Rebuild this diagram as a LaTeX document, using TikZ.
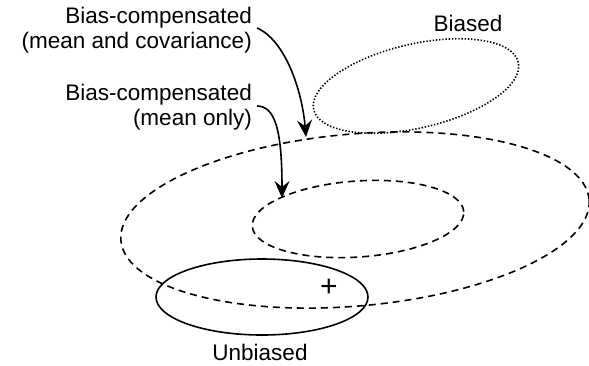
\documentclass[tikz,border=0pt]{standalone}
\usepackage{fontspec}
\setmainfont{Liberation Sans}
\usetikzlibrary{arrows.meta}
\begin{document}
\begin{tikzpicture}[x=1pt,y=-1pt,
  lbl/.style={inner sep=0pt,font=\fontsize{22.5}{25}\selectfont,align=right},
  solidell/.style={draw,line width=1.6pt},
  dashell/.style={draw,line width=1.6pt,dash pattern=on 7pt off 5pt},
  dotell/.style={draw,line width=1.6pt,dash pattern=on 1.4pt off 1.8pt},
  arr/.style={draw,line width=1.6pt,-{Stealth[length=17pt,width=15pt,inset=6pt]}}]
\useasboundingbox (0,0) rectangle (589,365);
% ellipses
\draw[dashell,rotate around={5:(355,220)}] (355,220) ellipse [x radius=235pt,y radius=86pt];
\draw[dashell,rotate around={4:(358,219)}] (358,219) ellipse [x radius=106pt,y radius=38pt];
\draw[solidell] (262,297) ellipse [x radius=106pt,y radius=38pt];
\draw[dotell,rotate around={13:(416,86)}] (416,86) ellipse [x radius=105pt,y radius=42pt];
% texts
\node[lbl,anchor=east] (bc1) at (252,30) {Bias-compensated\\(mean and covariance)};
\node[lbl,anchor=east] (bc2) at (252,107) {Bias-compensated\\(mean only)};
\node[lbl] (biased) at (468,23) {Biased};
\node[lbl] (unbiased) at (260,352) {Unbiased};
\node[inner sep=0pt,font=\fontsize{30}{30}\selectfont] (plus) at (329,288) {+};
% arrow targets
\coordinate (t1) at (306,137);
\coordinate (t2) at (282,198);
\coordinate (s1) at (257,28);
\coordinate (s2) at (257,106);
\draw[arr] (s1) .. controls (285,40) and (302,90) .. (t1);
\draw[arr] (s2) .. controls (275,106) and (282,130) .. (t2);
\end{tikzpicture}
\end{document}
